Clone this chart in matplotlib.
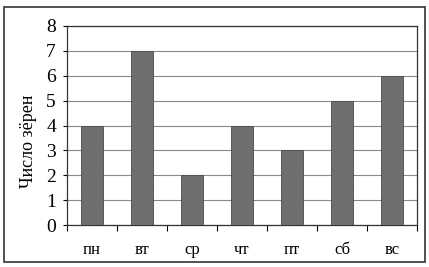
import matplotlib
matplotlib.use("Agg")
import matplotlib.pyplot as plt
from matplotlib.patches import Rectangle

days = ["пн", "вт", "ср", "чт", "пт", "сб", "вс"]
grains = [4, 7, 2, 4, 3, 5, 6]
y_ticks = [0, 1, 2, 3, 4, 5, 6, 7, 8]

plt.rcParams["font.family"] = ["Liberation Serif", "DejaVu Serif"]

fig = plt.figure(figsize=(4.29, 2.67), dpi=100)
ax = fig.add_axes([67 / 429, 1 - 225 / 267, 350 / 429, 199 / 267])

x = list(range(len(days)))
ax.bar(x, grains, width=0.44, color="#6f6f6f", edgecolor="#4a4a4a", linewidth=0.6, zorder=3)

ax.set_xlim(-0.5, len(days) - 0.5)
ax.set_ylim(0, 8)
ax.set_yticks(y_ticks)
ax.set_yticklabels([str(v) for v in y_ticks], fontsize=14)
ax.yaxis.grid(True, color="#8a8a8a", linewidth=0.8, zorder=0)

# category labels centred, ticks on the category boundaries
ax.set_xticks(x)
ax.set_xticklabels(days, fontsize=12)
ax.tick_params(axis="x", length=0, pad=12)
ax.set_xticks([i - 0.5 for i in range(len(days) + 1)], minor=True)
ax.tick_params(axis="x", which="minor", length=4, direction="out", width=0.8)
ax.tick_params(axis="y", length=3, direction="out", width=0.8, pad=5)

for s in ax.spines.values():
    s.set_color("#333333")
    s.set_linewidth(0.9)

ax.set_ylabel("Число зёрен", fontsize=13)
# label sits a bit below the axis centre in the original
ax.yaxis.set_label_coords(-0.085, 0.42)

# outer frame around the whole chart
fig.patches.append(Rectangle((4 / 429, 5 / 267), 421 / 429, 255 / 267,
                             transform=fig.transFigure, fill=False,
                             edgecolor="#333333", linewidth=1.2))

fig.savefig("out.png", dpi=100)
